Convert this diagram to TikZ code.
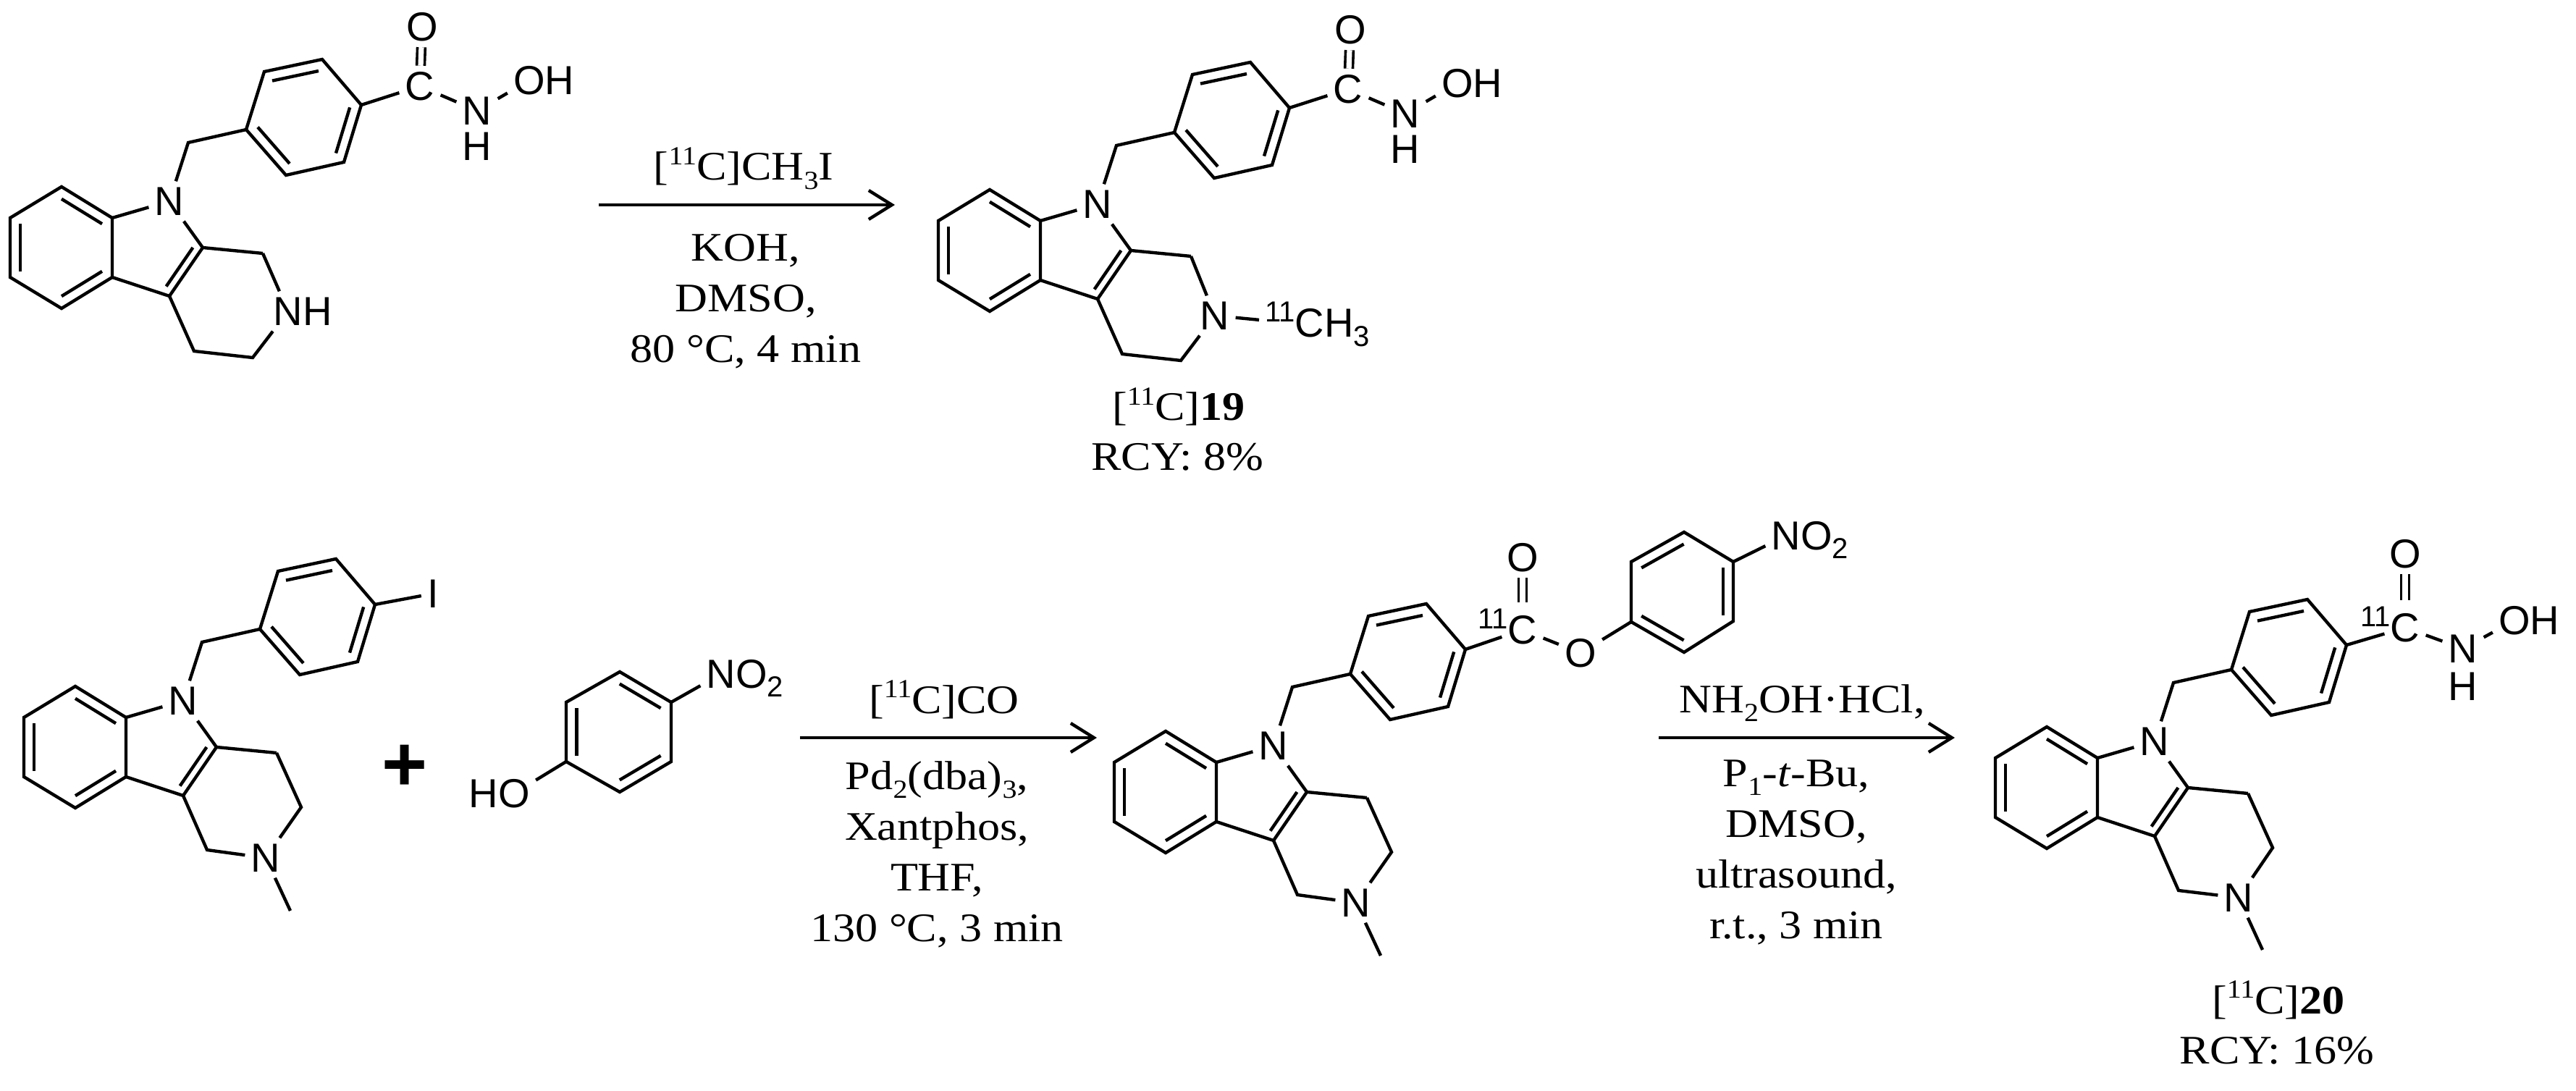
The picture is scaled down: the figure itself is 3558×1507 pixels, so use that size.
\documentclass[tikz,border=0pt]{standalone}
\usepackage{fontspec}
\setmainfont{Liberation Serif}[FakeStretch=1.11]
\setsansfont{Liberation Sans}
\usetikzlibrary{arrows.meta,calc}
\newcommand{\scriptpt}{18}
\newcommand{\up}[1]{\raisebox{0.38em}{\fontsize{\scriptpt}{18}\selectfont #1}}
\newcommand{\dn}[1]{\raisebox{-0.22em}{\fontsize{\scriptpt}{18}\selectfont #1}}
\newcommand{\rtext}[1]{\smash{\rlap{#1}}}
\newcommand{\ltext}[1]{\smash{\llap{#1}}}
\tikzset{
	bond/.style={line width=2.2pt},
	dbond/.style={draw, double, double distance=3.6pt, line width=1.8pt},
	atom/.style={font=\def\scriptpt{20}\sffamily\fontsize{28}{28}\selectfont, inner sep=4pt},
	cond/.style={font=\fontsize{28}{35}\selectfont, align=center, inner sep=0pt},
	rxn/.style={line width=2.4pt, -{Straight Barb[length=16pt,width=20pt,line width=2.2pt]}}
}
\newcommand{\innerbond}[3]{\draw[bond] ($(#1)!0.2!(#3)$) -- ($(#2)!0.2!(#3)$);}
\newcommand{\carbolinecore}{
	\coordinate (b1) at (0,0);
	\coordinate (b2) at (70,43);
	\coordinate (b3) at (70,125);
	\coordinate (b4) at (0,168);
	\coordinate (b5) at (-71,125);
	\coordinate (b6) at (-71,43);
	\coordinate (bc) at (0,84);
	\coordinate (c2) at (195,84);
	\coordinate (c3) at (149,151);
	\coordinate (pc) at (127,84);
	\coordinate (r1) at (278,92);
	\coordinate (k1) at (175,-61);
	\coordinate (p1) at (255,-79);
	\coordinate (p2) at (280,-159);
	\coordinate (p3) at (360,-176);
	\coordinate (p4) at (414,-113);
	\coordinate (p5) at (390,-34);
	\coordinate (p6) at (310,-16);
	\coordinate (pm) at (335,-96);
	\node[atom] (n1) at (149,20) {N};
	\draw[bond] (b1) -- (b2) -- (b3) -- (b4) -- (b5) -- (b6) -- cycle;
	\draw[bond] (b2) -- (n1) -- (c2) -- (c3) -- (b3);
	\draw[bond] (n1) -- (k1) -- (p1);
	\draw[bond] (p1) -- (p2) -- (p3) -- (p4) -- (p5) -- (p6) -- cycle;
	\draw[bond] (c2) -- (r1);
	\foreach \u/\v in {b1/b2,b3/b4,b5/b6}
		{\innerbond{\u}{\v}{bc}}
	\innerbond{c2}{c3}{pc}
	\foreach \u/\v in {p2/p3,p4/p5,p6/p1}
		{\innerbond{\u}{\v}{pm}}
}
\begin{document}
\begin{tikzpicture}[x=0.5pt,y=-0.5pt]
	\useasboundingbox (0,0) rectangle (3558,1507);

	\begin{scope}[shift={(85,258)},name prefix=a-]
		\carbolinecore
		\coordinate (r3) at (264,236);
		\coordinate (r4) at (183,227);
		\node[atom] (n2) at (313,172) {N\rtext{H}};
		\draw[bond] (c3) -- (r4) -- (r3) -- (n2) -- (r1);
		\node[atom] (c1) at (495,-139) {C};
		\node[atom] (o1) at (498,-221) {O};
		\node[atom] (n3) at (574,-105) {N};
		\node[atom,inner sep=0pt] (h1) at (574,-56) {H};
		\node[atom] (o2) at (646,-147) {O\rtext{H}};
		\draw[bond] (p4) -- (c1);
		\draw[bond] (c1) -- (n3) -- (o2);
		\draw[dbond] (c1) -- (o1);
	\end{scope}

	\coordinate (s1) at (827,283);
	\coordinate (e1) at (1236,283);
	\draw[rxn] (s1) -- (e1);
	\node[cond,anchor=base] (t1) at (1027,249) {[\up{11}C]CH\dn{3}I};
	\node[cond,anchor=north] (t2) at (1030,323) {KOH,\\DMSO,\\80 °C, 4 min};

	\begin{scope}[shift={(1367,262)},name prefix=b-]
		\carbolinecore
		\coordinate (r3) at (264,236);
		\coordinate (r4) at (183,227);
		\node[atom] (n2) at (311,174) {N};
		\node[atom,anchor=base west] (m1) at (372,204) {\up{11}C\rtext{H\dn{3}}};
		\draw[bond] (c3) -- (r4) -- (r3) -- (n2) -- (r1);
		\draw[bond] (n2) -- (m1.west);
		\node[atom] (c1) at (495,-139) {C};
		\node[atom] (o1) at (498,-221) {O};
		\node[atom] (n3) at (574,-105) {N};
		\node[atom,inner sep=0pt] (h1) at (574,-56) {H};
		\node[atom] (o2) at (646,-147) {O\rtext{H}};
		\draw[bond] (p4) -- (c1);
		\draw[bond] (c1) -- (n3) -- (o2);
		\draw[dbond] (c1) -- (o1);
	\end{scope}
	\node[cond,anchor=base] (l1) at (1628,581) {[\up{11}C]\textbf{19}};
	\node[cond,anchor=base] (l2) at (1626,650) {RCY: 8\%};

	\begin{scope}[shift={(104,948)},name prefix=c-]
		\carbolinecore
		\coordinate (r2) at (312,167);
		\coordinate (r4) at (182,226);
		\coordinate (m1) at (297,310);
		\node[atom] (n2) at (263,237) {N};
		\node[atom] (i1) at (494,-128) {I};
		\draw[bond] (c3) -- (r4) -- (n2) -- (r2) -- (r1);
		\draw[bond] (n2) -- (m1);
		\draw[bond] (p4) -- (i1);
	\end{scope}

	\node[font=\sffamily\bfseries\fontsize{54}{54}\selectfont,inner sep=0pt] (plus) at (559,1061) {+};

	\coordinate (q1) at (856,928);
	\coordinate (q2) at (927,970);
	\coordinate (q3) at (927,1052);
	\coordinate (q4) at (856,1094);
	\coordinate (q5) at (782,1052);
	\coordinate (q6) at (782,970);
	\coordinate (qc) at (855,1011);
	\node[atom] (w1) at (996,931) {N\rtext{O\dn{2}}};
	\node[atom] (w2) at (710,1096) {\ltext{H}O};
	\draw[bond] (q1) -- (q2) -- (q3) -- (q4) -- (q5) -- (q6) -- cycle;
	\draw[bond] (q2) -- (w1);
	\draw[bond] (q5) -- (w2);
	\foreach \u/\v in {q1/q2,q3/q4,q5/q6}
		{\innerbond{\u}{\v}{qc}}

	\coordinate (s2) at (1105,1019);
	\coordinate (e2) at (1515,1019);
	\draw[rxn] (s2) -- (e2);
	\node[cond,anchor=base] (t3) at (1304,985) {[\up{11}C]CO};
	\node[cond,anchor=north] (t4) at (1294,1051) {Pd\dn{2}(dba)\dn{3},\\Xantphos,\\THF,\\130 °C, 3 min};

	\begin{scope}[shift={(1610,1010)},name prefix=d-]
		\carbolinecore
		\coordinate (r2) at (312,167);
		\coordinate (r4) at (182,226);
		\coordinate (m1) at (297,310);
		\node[atom] (n2) at (263,237) {N};
		\draw[bond] (c3) -- (r4) -- (n2) -- (r2) -- (r1);
		\draw[bond] (n2) -- (m1);
		\node[atom] (c1) at (493,-140) {\ltext{\up{11}}C};
		\node[atom] (o1) at (493,-240) {O};
		\node[atom] (o2) at (573,-108) {O};
		\draw[bond] (p4) -- (c1);
		\draw[bond] (c1) -- (o2);
		\draw[dbond,shorten <=5pt] (c1) -- (o1);
		\coordinate (q1) at (716,-275);
		\coordinate (q2) at (784,-234);
		\coordinate (q3) at (784,-152);
		\coordinate (q4) at (716,-109);
		\coordinate (q5) at (643,-151);
		\coordinate (q6) at (643,-234);
		\coordinate (qc) at (714,-192);
		\node[atom] (w1) at (857,-270) {N\rtext{O\dn{2}}};
		\draw[bond] (q1) -- (q2) -- (q3) -- (q4) -- (q5) -- (q6) -- cycle;
		\draw[bond] (o2) -- (q5);
		\draw[bond] (q2) -- (w1);
		\foreach \u/\v in {q2/q3,q4/q5,q6/q1}
			{\innerbond{\u}{\v}{qc}}
	\end{scope}

	\coordinate (s3) at (2291,1019);
	\coordinate (e3) at (2700,1019);
	\draw[rxn] (s3) -- (e3);
	\node[cond,anchor=base] (t5) at (2489,984) {NH\dn{2}OH·HCl,};
	\node[cond,anchor=north] (t6) at (2481,1049) {P\dn{1}-\textit{t}-Bu,\\DMSO,\\ultrasound,\\r.t., 3 min};

	\begin{scope}[shift={(2827,1004)},name prefix=e-]
		\carbolinecore
		\coordinate (r2) at (312,167);
		\coordinate (r4) at (182,226);
		\coordinate (m1) at (298,308);
		\node[atom] (n2) at (265,236) {N};
		\draw[bond] (c3) -- (r4) -- (n2) -- (r2) -- (r1);
		\draw[bond] (n2) -- (m1);
		\node[atom] (c1) at (495,-137) {\ltext{\up{11}}C};
		\node[atom] (o1) at (495,-239) {O};
		\node[atom] (n3) at (575,-108) {N};
		\node[atom] (h1) at (575,-56) {H};
		\node[atom] (o2) at (646,-147) {O\rtext{H}};
		\draw[bond] (p4) -- (c1);
		\draw[bond] (c1) -- (n3) -- (o2);
		\draw[dbond,shorten <=5pt] (c1) -- (o1);
	\end{scope}
	\node[cond,anchor=base] (l3) at (3147,1400) {[\up{11}C]\textbf{20}};
	\node[cond,anchor=base] (l4) at (3145,1469) {RCY: 16\%};
\end{tikzpicture}
\end{document}
